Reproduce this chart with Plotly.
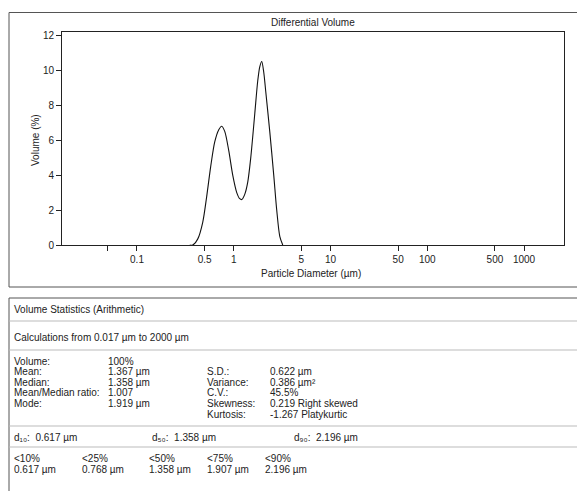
import plotly.graph_objects as go

# ---------------- data ----------------
diameter_um = [0.351, 0.377, 0.425, 0.478, 0.526, 0.578, 0.636, 0.700, 0.751, 0.807,
               0.888, 0.976, 1.074, 1.153, 1.21, 1.299, 1.395, 1.499, 1.648, 1.770,
               1.857, 1.946, 2.04, 2.14, 2.355, 2.59, 2.78, 2.99, 3.21]
volume_pct = [0.0, 0.0, 0.35, 1.3, 2.8, 4.5, 5.9, 6.6, 6.8, 6.5,
              5.4, 4.0, 3.0, 2.65, 2.6, 2.9, 3.6, 5.0, 7.5, 9.4,
              10.2, 10.5, 9.9, 8.8, 6.5, 4.0, 2.0, 0.5, 0.0]

x_tickvals = [0.1, 0.5, 1, 5, 10, 50, 100, 500, 1000]
x_ticktext = ["0.1", "0.5", "1", "5", "10", "50", "100", "500", "1000"]
x_minor_tickvals = [0.05]
y_tickvals = [0, 2, 4, 6, 8, 10, 12]

stats_left_labels = ["Volume:", "Mean:", "Median:", "Mean/Median ratio:", "Mode:"]
stats_left_values = ["100%", "1.367 µm", "1.358 µm", "1.007", "1.919 µm"]
stats_right_labels = ["S.D.:", "Variance:", "C.V.:", "Skewness:", "Kurtosis:"]
stats_right_values = ["0.622 µm", "0.386 µm²", "45.5%", "0.219 Right skewed", "-1.267 Platykurtic"]
d_labels = ["d₁₀:  0.617 µm", "d₅₀:  1.358 µm", "d₉₀:  2.196 µm"]
pct_labels = ["<10%", "<25%", "<50%", "<75%", "<90%"]
pct_values = ["0.617 µm", "0.768 µm", "1.358 µm", "1.907 µm", "2.196 µm"]

# ---------------- layout geometry ----------------
W, H = 577, 491
L, R, T, B = 62, 13, 32, 246
PW, PH = W - L - R, H - T - B

def px(x):
    return (x - L) / PW

def py(y):
    return (H - B - y) / PH

FONT = "Liberation Sans Narrow, Arial Narrow, Liberation Sans, Arial, DejaVu Sans, sans-serif"
TXT = "#222222"

fig = go.Figure()
fig.add_trace(go.Scatter(
    x=diameter_um, y=volume_pct, mode="lines",
    line=dict(color="#111111", width=1.1, shape="spline", smoothing=0.8),
    hoverinfo="x+y", showlegend=False,
))

annotations = []

def text(x, y, s, size=10, anchor="left", angle=0):
    annotations.append(dict(
        x=px(x), y=py(y), xref="paper", yref="paper", text=s, showarrow=False,
        xanchor=anchor, yanchor="middle", textangle=angle,
        font=dict(family=FONT, size=size, color=TXT),
    ))

# chart titles
text(313, 22, "Differential Volume", 10, "center")
text(311, 273, "Particle Diameter (µm)", 10, "center")
text(35, 140, "Volume (%)", 10, "center", -90)

# statistics panel
text(12, 309, "Volume Statistics (Arithmetic)")
text(12, 338, "Calculations from 0.017 µm to 2000 µm")
rows_y = [361, 371.5, 382, 392.5, 403]
for yy, lab, val in zip(rows_y, stats_left_labels, stats_left_values):
    text(12, yy, lab)
    text(106, yy, val)
rows_y2 = [371.5, 382, 392.5, 403, 414]
for yy, lab, val in zip(rows_y2, stats_right_labels, stats_right_values):
    text(205, yy, lab)
    text(268, yy, val)
for xx, s in zip([12, 150, 292], d_labels):
    text(xx, 437, s)
for xx, lab, val in zip([12, 80, 147, 205, 263], pct_labels, pct_values):
    text(xx, 458, lab)
    text(xx, 469, val)

shapes = []

def line(x0, y0, x1, y1, color="#555555", width=1):
    shapes.append(dict(type="line", xref="paper", yref="paper",
                       x0=px(x0), y0=py(y0), x1=px(x1), y1=py(y1),
                       line=dict(color=color, width=width)))

# outer frame of chart panel
line(9, 12.5, 600, 12.5)
line(9, 12.5, 9, 287)
line(9, 287, 600, 287)
# outer frame of statistics panel
line(9, 298, 600, 298)
line(9, 298, 9, 520)
# separators inside statistics panel
line(9, 321, 600, 321, "#bbbbbb")
line(9, 350, 600, 350, "#bbbbbb")
line(9, 426, 600, 426, "#bbbbbb")
line(9, 447, 600, 447, "#bbbbbb")

fig.update_layout(
    width=W, height=H,
    margin=dict(l=L, r=R, t=T, b=B, pad=0),
    paper_bgcolor="white", plot_bgcolor="white",
    showlegend=False,
    font=dict(family=FONT, size=10, color=TXT),
    annotations=annotations,
    shapes=shapes,
)
fig.update_xaxes(
    type="log", range=[-1.775, 3.413],
    tickvals=x_tickvals, ticktext=x_ticktext,
    ticks="outside", ticklen=5, tickcolor="#222222",
    minor=dict(tickvals=x_minor_tickvals, ticks="outside", ticklen=5, tickcolor="#222222", showgrid=False),
    showline=True, linecolor="#222222", linewidth=1, mirror=True,
    showgrid=False, zeroline=False,
    tickfont=dict(family=FONT, size=10, color=TXT),
)
fig.update_yaxes(
    range=[0, 12.19], tickvals=y_tickvals,
    ticks="outside", ticklen=5, tickcolor="#222222",
    showline=True, linecolor="#222222", linewidth=1, mirror=True,
    showgrid=False, zeroline=False,
    tickfont=dict(family=FONT, size=10, color=TXT),
)

fig.write_html(
    "out.html",
    config={"displayModeBar": False},
    post_script="document.body.style.margin='0';document.body.style.padding='0';",
)
